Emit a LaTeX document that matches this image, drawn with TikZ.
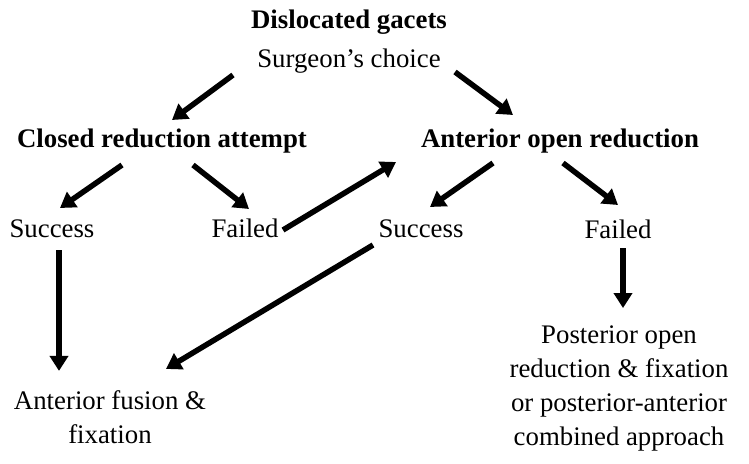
\documentclass[tikz,border=0pt]{standalone}
\usepackage{fontspec}
\setmainfont{Liberation Serif}
\usetikzlibrary{arrows.meta}
\begin{document}
\begin{tikzpicture}[x=1pt,y=-1pt,
  lbl/.style={inner sep=0pt,anchor=base,font=\fontsize{26.8}{34}\selectfont},
  blbl/.style={lbl,font=\fontsize{26.8}{34}\selectfont\bfseries},
  arr/.style={line width=5.5pt,-{Triangle[length=15pt,width=18pt]}}]
\useasboundingbox (0,0) rectangle (749,463);
\node[blbl] (title) at (349,28) {Dislocated gacets};
\node[lbl] (surg) at (349,67) {Surgeon’s choice};
\node[blbl] (closed) at (162,147) {Closed reduction attempt};
\node[blbl] (ant) at (560,147) {Anterior open reduction};
\node[lbl] (succL) at (52,237) {Success};
\node[lbl] (failL) at (245,237) {Failed};
\node[lbl] (succM) at (421,237) {Success};
\node[lbl] (failR) at (618,238) {Failed};
\node[lbl,align=center] (post) at (619,445) {Posterior open\\reduction \& fixation\\or posterior-anterior\\combined approach};
\node[lbl,align=center] (fus) at (110,443) {Anterior fusion \&\\fixation};
\draw[arr] ([shift={(-116,8)}]surg.base) -- ([shift={(10,-27)}]closed.base);
\draw[arr] ([shift={(106,5)}]surg.base) -- ([shift={(-47,-32)}]ant.base);
\draw[arr] ([shift={(-40,18)}]closed.base) -- ([shift={(8,-29)}]succL.base);
\draw[arr] ([shift={(31,18)}]closed.base) -- ([shift={(4,-28)}]failL.base);
\draw[arr] ([shift={(38,-7)}]failL.base) -- ([shift={(-164,15)}]ant.base);
\draw[arr] ([shift={(-67,16)}]ant.base) -- ([shift={(9,-30)}]succM.base);
\draw[arr] ([shift={(3,16)}]ant.base) -- ([shift={(0,-33)}]failR.base);
\draw[arr] ([shift={(5,10)}]failR.base) -- ([shift={(4,-17)}]post.north);
\draw[arr] ([shift={(7,13)}]succL.base) -- ([shift={(-51,-19)}]fus.north);
\draw[arr] ([shift={(-48,8)}]succM.base) -- ([shift={(56,-21)}]fus.north);
\end{tikzpicture}
\end{document}
